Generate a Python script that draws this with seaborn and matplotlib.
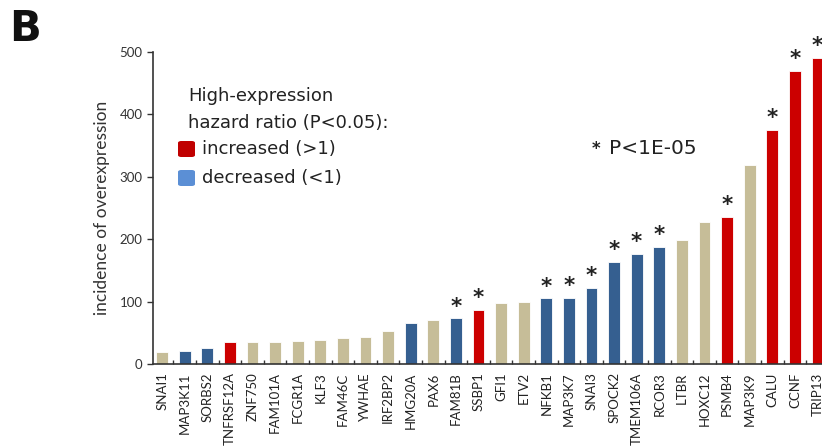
import matplotlib
matplotlib.use("Agg")
import matplotlib.pyplot as plt
import seaborn as sns
import pandas as pd
from matplotlib.patches import FancyBboxPatch

genes = ["SNAI1", "MAP3K11", "SORBS2", "TNFRSF12A", "ZNF750", "FAM101A", "FCGR1A",
         "KLF3", "FAM46C", "YWHAE", "IRF2BP2", "HMG20A", "PAX6", "FAM81B", "SSBP1",
         "GFI1", "ETV2", "NFKB1", "MAP3K7", "SNAI3", "SPOCK2", "TMEM106A", "RCOR3",
         "LTBR", "HOXC12", "PSMB4", "MAP3K9", "CALU", "CCNF", "TRIP13"]
incidence = [19, 21, 26, 35, 35, 35, 37, 39, 42, 44, 53, 65, 70, 73, 87,
             97, 99, 105, 106, 122, 163, 177, 188, 198, 227, 236, 319, 375, 470, 490]
hazard = ["ns", "dec", "dec", "inc", "ns", "ns", "ns", "ns", "ns", "ns", "ns",
          "dec", "ns", "dec", "inc", "ns", "ns", "dec", "dec", "dec", "dec", "dec",
          "dec", "ns", "ns", "inc", "ns", "inc", "inc", "inc"]
significant = [False] * 13 + [True, True, False, False, True, True, True, True,
                              True, True, False, False, True, False, True, True, True]
y_ticks = [0, 100, 200, 300, 400, 500]

palette = {"ns": "#C6BD98", "dec": "#355F90", "inc": "#CC0000"}

df = pd.DataFrame({"gene": genes, "incidence": incidence, "hazard": hazard})

plt.rcParams["font.family"] = ["Lato", "DejaVu Sans"]
fig = plt.figure(figsize=(8.22, 4.47), dpi=100)
ax = fig.add_axes([153 / 822, (447 - 364) / 447, 669 / 822, 312 / 447])

sns.barplot(data=df, x="gene", y="incidence", hue="hazard", palette=palette,
            dodge=False, width=0.52, legend=False, ax=ax, saturation=1,
            edgecolor="white", linewidth=0.6)

ax.set_xlim(-0.4, 29.2)
ax.set_ylim(0, 500)
ax.set_yticks(y_ticks)
ax.tick_params(axis="y", labelsize=9.5, colors="#333333", direction="out", length=4, width=1)
ax.tick_params(axis="x", which="major", length=0, labelsize=9.5, labelrotation=90,
               colors="#222222", pad=6)
ax.set_xticks([i + 0.5 for i in range(len(genes) - 1)], minor=True)
ax.tick_params(axis="x", which="minor", direction="in", length=3, width=1, color="#333333")
ax.set_xlabel("")
ax.set_ylabel("incidence of overexpression", fontsize=12.5, color="#333333", labelpad=7)
for s in ["top", "right"]:
    ax.spines[s].set_visible(False)
for s in ["left", "bottom"]:
    ax.spines[s].set_color("#333333")
    ax.spines[s].set_linewidth(1.2)

# significance stars above bars
for i, (v, sig) in enumerate(zip(incidence, significant)):
    if sig:
        ax.text(i, v + 3, "*", ha="center", va="bottom", fontsize=15.5,
                fontweight="bold", color="#222222", clip_on=False,
                family="DejaVu Sans")

# legend block
fs = 13
lf = "DejaVu Sans"
fig.text(188 / 822, 1 - 96 / 447, "High-expression", fontsize=fs, color="#222222",
         va="center", family=lf)
fig.text(188 / 822, 1 - 123 / 447, "hazard ratio (P<0.05):", fontsize=fs, color="#222222",
         va="center", family=lf)
for yc, col, label in [(149, "#C00000", "increased (>1)"), (178, "#5B8FD5", "decreased (<1)")]:
    fig.patches.append(FancyBboxPatch((178 / 822, 1 - (yc + 8) / 447), 17 / 822, 16 / 447,
                                      boxstyle="round,pad=0,rounding_size=0.004",
                                      transform=fig.transFigure, facecolor=col,
                                      edgecolor="none"))
    fig.text(202 / 822, 1 - yc / 447, label, fontsize=fs, color="#222222", va="center",
             family=lf)

fig.text(592 / 822, 1 - 149 / 447, "*", fontsize=12, color="#222222", va="center",
         fontweight="bold", family=lf)
fig.text(609 / 822, 1 - 149 / 447, "P<1E-05", fontsize=14.5, color="#222222", va="center",
         family=lf)
fig.text(9 / 822, 1 - 29 / 447, "B", fontsize=30, fontweight="heavy", color="#111111",
         va="center", family="DejaVu Sans")

fig.savefig("out.png", dpi=100)
